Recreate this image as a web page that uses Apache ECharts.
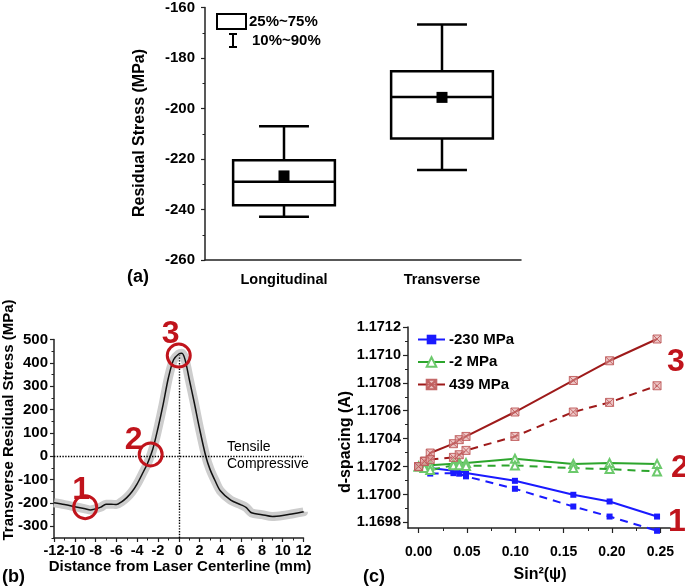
<!DOCTYPE html>
<html>
<head>
<meta charset="utf-8">
<script src="https://cdn.jsdelivr.net/npm/echarts@6/dist/echarts.min.js"></script>
<style>
  html, body { margin: 0; padding: 0; background: #fff; }
  #chart { width: 685px; height: 588px; }
</style>
</head>
<body>
<div id="chart"></div>
<script>
// ---- (a) box chart ----
const boxCats = ["Longitudinal", "Transverse"];
const whiskerLow = [-242.9, -224.4];
const q1 = [-238.3, -211.9];
const medians = [-229, -195.4];
const q3 = [-220.5, -185.2];
const whiskerHigh = [-207, -166.7];
const means = [-226.7, -195.6];

// ---- (b) transverse residual stress profile ----
const distX = [-12, -11, -10, -9, -8.5, -8, -7.5, -7, -6.5, -6, -5.5, -5, -4.5, -4, -3.5, -3, -2.5, -2, -1.5, -1,
  -0.5, 0, 0.3, 0.6, 1, 1.5, 2, 2.6, 3, 3.5, 4, 5, 6, 6.5, 7, 8, 9, 10, 11, 12];
const stressY = [-199, -207, -216, -225, -230, -225, -218, -205, -205, -207, -195, -177, -152, -118, -75, -30, 30, 120, 222, 335,
  413, 438, 441, 415, 332, 228, 118, 0, -55, -105, -148, -188, -208, -220, -242, -250, -258, -254, -246, -238];
const circleX = [-9, -2.7, 0];
const circleY = [-218, 8, 431];
const circleText = ["1", "2", "3"];

// ---- (c) d-spacing vs sin^2(psi) ----
const sin2psi = [0, 0.006, 0.012, 0.036, 0.042, 0.049, 0.0996, 0.160, 0.1975, 0.2466];
const blueSolid = [1.17020, 1.170195, 1.17019, 1.17017, 1.17017, 1.170154, 1.170098, 1.169998, 1.16995, 1.169842];
const blueDash = [1.17020, 1.17018, 1.17015, 1.170153, 1.170149, 1.17013, 1.170041, 1.169914, 1.169842, 1.16974];
const greenSolid = [1.17020, 1.170205, 1.17021, 1.17022, 1.17023, 1.170225, 1.170256, 1.170218, 1.170225, 1.170218];
const greenDash = [1.17020, 1.17019, 1.170175, 1.170209, 1.17021, 1.170205, 1.170208, 1.170189, 1.170182, 1.170165];
const redSolid = [1.17020, 1.17024, 1.170297, 1.170364, 1.170393, 1.170416, 1.170591, 1.170817, 1.170958, 1.171114];
const redDash = [1.17020, 1.170237, 1.17025, 1.170266, 1.170285, 1.170316, 1.170416, 1.170591, 1.17066, 1.170779];
const seriesNames = ["-230 MPa", "-2 MPa", "439 MPa"];
const yTicksC = [1.1698, 1.1700, 1.1702, 1.1704, 1.1706, 1.1708, 1.1710, 1.1712];
const yMinorC = [1.1698, 1.1699, 1.1700, 1.1701, 1.1702, 1.1703, 1.1704, 1.1705, 1.1706, 1.1707, 1.1708, 1.1709, 1.1710, 1.1711, 1.1712];
const xTicksC = [0, 0.05, 0.10, 0.15, 0.20, 0.25];
const xMinorC = [0, 0.025, 0.05, 0.075, 0.10, 0.125, 0.15, 0.175, 0.20, 0.225, 0.25];
const yTicksB = [-300, -200, -100, 0, 100, 200, 300, 400, 500];

const FONT = "Liberation Sans, Arial, sans-serif";
const RED = "#c0141c";
const BLUE = "#1a1aff";
const GREEN = "#2ca52c";
const BROWN = "#9e1a1a";

const pair = (xs, ys) => xs.map((x, i) => [x, ys[i]]);

const axisLine = { onZero: false, lineStyle: { color: "#222", width: 1.5 } };
const tickStyle = { lineStyle: { color: "#222", width: 1.2 } };
const lbl = (size) => ({ color: "#000", fontFamily: FONT, fontWeight: "bold", fontSize: size });

function renderBox(params, api) {
  const x = api.value(0);
  const p = [1, 2, 3, 4, 5].map(d => api.coord([x, api.value(d)]));
  const band = api.size([1, 0])[0];
  const half = band * 0.322, cap = band * 0.158;
  const cx = p[0][0];
  const st = { stroke: "#000", lineWidth: 2.5, fill: null };
  return {
    type: "group",
    children: [
      { type: "line", shape: { x1: cx, y1: p[0][1], x2: cx, y2: p[1][1] }, style: st },
      { type: "line", shape: { x1: cx, y1: p[3][1], x2: cx, y2: p[4][1] }, style: st },
      { type: "line", shape: { x1: cx - cap, y1: p[0][1], x2: cx + cap, y2: p[0][1] }, style: st },
      { type: "line", shape: { x1: cx - cap, y1: p[4][1], x2: cx + cap, y2: p[4][1] }, style: st },
      { type: "rect", shape: { x: cx - half, y: p[3][1], width: half * 2, height: p[1][1] - p[3][1] }, style: { stroke: "#000", lineWidth: 2.5, fill: "#fff" } },
      { type: "line", shape: { x1: cx - half, y1: p[2][1], x2: cx + half, y2: p[2][1] }, style: st }
    ]
  };
}

// circle markers in (b), drawn through the axis scales, with their number beside
function renderCircle(params, api) {
  const c = api.coord([api.value(0), api.value(1)]);
  const off = [[-4, -17], [-17, -14], [-8, -21]][params.dataIndex];
  return {
    type: "group",
    children: [
      { type: "circle", shape: { cx: c[0], cy: c[1], r: 11.5 }, style: { stroke: RED, lineWidth: 3, fill: null } },
      {
        type: "text", x: c[0] + off[0], y: c[1] + off[1],
        style: { text: circleText[params.dataIndex], font: "bold 32px " + FONT, fill: RED, align: "center", verticalAlign: "middle" }
      }
    ]
  };
}

const txt = (text, x, y, size, opts) => Object.assign({
  type: "text", x: x, y: y, silent: true,
  style: Object.assign({ text: text, font: "bold " + size + "px " + FONT, fill: "#000", align: "center", verticalAlign: "middle" }, (opts && opts.style) || {})
}, (opts && opts.el) || {});

const chart = echarts.init(document.getElementById("chart"));
chart.setOption({
  animation: false,
  backgroundColor: "#fff",
  grid: [
    { left: 205, right: 164, top: 7, bottom: 328 },
    { left: 54, right: 381.5, top: 339.5, bottom: 50 },
    { left: 408, right: 15, top: 327, bottom: 60 }
  ],
  xAxis: [
    {
      gridIndex: 0, type: "category", data: boxCats, boundaryGap: true, position: "bottom",
      axisLine: axisLine, axisTick: Object.assign({ alignWithLabel: true, length: 5 }, tickStyle),
      axisLabel: Object.assign({ margin: 12 }, lbl(14.5))
    },
    {
      gridIndex: 1, type: "value", min: -12, max: 12, interval: 2, position: "bottom",
      axisLine: axisLine, axisTick: Object.assign({ length: 4 }, tickStyle),
      minorTick: { show: true, splitNumber: 2, length: 2.5, lineStyle: { color: "#222", width: 1 } },
      splitLine: { show: false },
      axisLabel: Object.assign({ margin: 5 }, lbl(14.5))
    },
    {
      gridIndex: 2, type: "value", min: -0.011, max: 0.26, position: "bottom",
      axisLine: axisLine,
      axisTick: Object.assign({ length: 5, customValues: xTicksC }, tickStyle),
      splitLine: { show: false },
      axisLabel: Object.assign({ margin: 17, customValues: xTicksC, formatter: v => v.toFixed(2) }, lbl(14))
    },
    {
      gridIndex: 2, type: "value", min: -0.011, max: 0.26, position: "bottom",
      axisLine: { show: false, onZero: false },
      axisTick: { length: 3, customValues: xMinorC, lineStyle: { color: "#222", width: 1 } },
      splitLine: { show: false }, axisLabel: { show: false }
    }
  ],
  yAxis: [
    {
      gridIndex: 0, type: "value", min: -260, max: -160, interval: 20, position: "left",
      axisLine: Object.assign({ show: true }, axisLine), axisTick: Object.assign({ show: true, length: 4 }, tickStyle),
      minorTick: { show: true, splitNumber: 2, length: 2.5, lineStyle: { color: "#222", width: 1 } },
      splitLine: { show: false },
      axisLabel: Object.assign({ margin: 10 }, lbl(15))
    },
    {
      gridIndex: 1, type: "value", min: -350, max: 500, position: "left",
      axisLine: Object.assign({ show: true }, axisLine),
      axisTick: Object.assign({ show: true, length: 4, customValues: yTicksB }, tickStyle),
      splitLine: { show: false },
      axisLabel: Object.assign({ margin: 6, customValues: yTicksB }, lbl(15))
    },
    {
      gridIndex: 1, type: "value", min: -350, max: 500, interval: 50, position: "left",
      axisLine: { show: false, onZero: false },
      axisTick: { show: true, length: 2.5, lineStyle: { color: "#222", width: 1 } },
      splitLine: { show: false }, axisLabel: { show: false }
    },
    {
      gridIndex: 2, type: "value", min: 1.16976, max: 1.1712, position: "left",
      axisLine: Object.assign({ show: true }, axisLine),
      axisTick: Object.assign({ show: true, length: 5, customValues: yTicksC }, tickStyle),
      splitLine: { show: false },
      axisLabel: Object.assign({ margin: 7, customValues: yTicksC, formatter: v => v.toFixed(4) }, lbl(14.5))
    },
    {
      gridIndex: 2, type: "value", min: 1.16976, max: 1.1712, position: "left",
      axisLine: { show: false, onZero: false },
      axisTick: { show: true, length: 3, customValues: yMinorC, lineStyle: { color: "#222", width: 1 } },
      splitLine: { show: false }, axisLabel: { show: false }
    }
  ],
  legend: {
    data: seriesNames,
    orient: "vertical", left: 412, top: 327,
    itemWidth: 27, itemHeight: 12, itemGap: 7.5,
    textStyle: { color: "#000", fontFamily: FONT, fontWeight: "bold", fontSize: 15, padding: [0, 0, 0, -1] }
  },
  series: [
    // (a)
    {
      type: "custom", xAxisIndex: 0, yAxisIndex: 0,
      renderItem: renderBox,
      encode: { x: 0, y: [1, 2, 3, 4, 5] },
      data: boxCats.map((c, i) => [i, whiskerLow[i], q1[i], medians[i], q3[i], whiskerHigh[i]])
    },
    {
      type: "scatter", xAxisIndex: 0, yAxisIndex: 0, symbol: "rect", symbolSize: 11,
      itemStyle: { color: "#000", opacity: 1 }, z: 5,
      data: means
    },
    // (b)
    {
      type: "line", xAxisIndex: 1, yAxisIndex: 1, data: pair(distX, stressY),
      smooth: 0.3, symbol: "none", lineStyle: { color: "#cdcdcd", width: 9 }, z: 1, silent: true
    },
    {
      type: "line", xAxisIndex: 1, yAxisIndex: 1, data: pair(distX, stressY),
      smooth: 0.3, symbol: "none", lineStyle: { color: "#111", width: 1.5 }, z: 3,
      markLine: {
        silent: true, symbol: ["none", "none"], label: { show: false },
        lineStyle: { color: "#000", type: "dotted", width: 1.4 },
        data: [
          [{ coord: [-12, 0] }, { coord: [12, 0] }],
          [{ coord: [0, -350] }, { coord: [0, 432] }]
        ]
      }
    },
    {
      type: "custom", xAxisIndex: 1, yAxisIndex: 1, z: 6, silent: true,
      renderItem: renderCircle,
      encode: { x: 0, y: 1 },
      data: pair(circleX, circleY)
    },
    // (c)
    {
      name: seriesNames[0], type: "line", xAxisIndex: 2, yAxisIndex: 3, data: pair(sin2psi, blueSolid),
      symbol: "rect", symbolSize: 6, clip: false,
      lineStyle: { color: BLUE, width: 2 }, itemStyle: { color: BLUE }
    },
    {
      name: seriesNames[0] + " b", type: "line", xAxisIndex: 2, yAxisIndex: 3, data: pair(sin2psi, blueDash),
      symbol: "rect", symbolSize: 6, clip: false,
      lineStyle: { color: BLUE, width: 2, type: [8, 6] }, itemStyle: { color: BLUE }
    },
    {
      name: seriesNames[1], type: "line", xAxisIndex: 2, yAxisIndex: 3, data: pair(sin2psi, greenSolid),
      symbol: "emptyTriangle", symbolSize: 8, clip: false,
      lineStyle: { color: GREEN, width: 2 }, itemStyle: { color: "#6cc96c", borderWidth: 1 }
    },
    {
      name: seriesNames[1] + " b", type: "line", xAxisIndex: 2, yAxisIndex: 3, data: pair(sin2psi, greenDash),
      symbol: "emptyTriangle", symbolSize: 8, clip: false,
      lineStyle: { color: GREEN, width: 2, type: [8, 6] }, itemStyle: { color: "#6cc96c", borderWidth: 1 }
    },
    {
      name: seriesNames[2], type: "line", xAxisIndex: 2, yAxisIndex: 3, data: pair(sin2psi, redSolid),
      symbol: "path://M0,0H10V10H0Z M0,0L10,10 M10,0L0,10", symbolSize: 8, clip: false,
      lineStyle: { color: BROWN, width: 2 },
      itemStyle: { color: "rgba(225,160,160,0.6)", borderColor: "rgba(190,90,90,0.9)", borderWidth: 1 }
    },
    {
      name: seriesNames[2] + " b", type: "line", xAxisIndex: 2, yAxisIndex: 3, data: pair(sin2psi, redDash),
      symbol: "path://M0,0H10V10H0Z M0,0L10,10 M10,0L0,10", symbolSize: 8, clip: false,
      lineStyle: { color: BROWN, width: 2, type: [8, 6] },
      itemStyle: { color: "rgba(225,160,160,0.6)", borderColor: "rgba(190,90,90,0.9)", borderWidth: 1 }
    }
  ],
  graphic: [
    // (a) legend + titles
    { type: "rect", silent: true, shape: { x: 217, y: 14, width: 29, height: 15 }, style: { stroke: "#000", lineWidth: 2, fill: "#fff" } },
    { type: "line", silent: true, shape: { x1: 233, y1: 34, x2: 233, y2: 47 }, style: { stroke: "#000", lineWidth: 2 } },
    { type: "line", silent: true, shape: { x1: 229, y1: 34, x2: 237, y2: 34 }, style: { stroke: "#000", lineWidth: 2 } },
    { type: "line", silent: true, shape: { x1: 229, y1: 47, x2: 237, y2: 47 }, style: { stroke: "#000", lineWidth: 2 } },
    txt("25%~75%", 249, 22, 15, { style: { align: "left" } }),
    txt("10%~90%", 252, 41, 15, { style: { align: "left" } }),
    txt("Residual Stress (MPa)", 140, 133, 16, { el: { rotation: Math.PI / 2 } }),
    txt("(a)", 127, 277, 18, { style: { align: "left" } }),
    // (b)
    txt("Transverse Residual Stress (MPa)", 9, 420, 15, { el: { rotation: Math.PI / 2 } }),
    txt("Distance from Laser Centerline (mm)", 180, 567, 15),
    txt("(b)", 2, 577, 18, { style: { align: "left" } }),
    txt("Tensile", 227, 447, 14, { style: { align: "left", font: "14px " + FONT } }),
    txt("Compressive", 227, 464, 14, { style: { align: "left", font: "14px " + FONT } }),
    // (c)
    txt("d-spacing (A)", 346, 442, 16, { el: { rotation: Math.PI / 2 } }),
    txt("Sin²(ψ)", 540, 575, 16),
    txt("(c)", 363, 577, 18, { style: { align: "left" } }),
    txt("3", 676, 362, 32, { style: { fill: RED } }),
    txt("2", 680, 468, 32, { style: { fill: RED } }),
    txt("1", 677, 522, 32, { style: { fill: RED } })
  ]
});
</script>
</body>
</html>
